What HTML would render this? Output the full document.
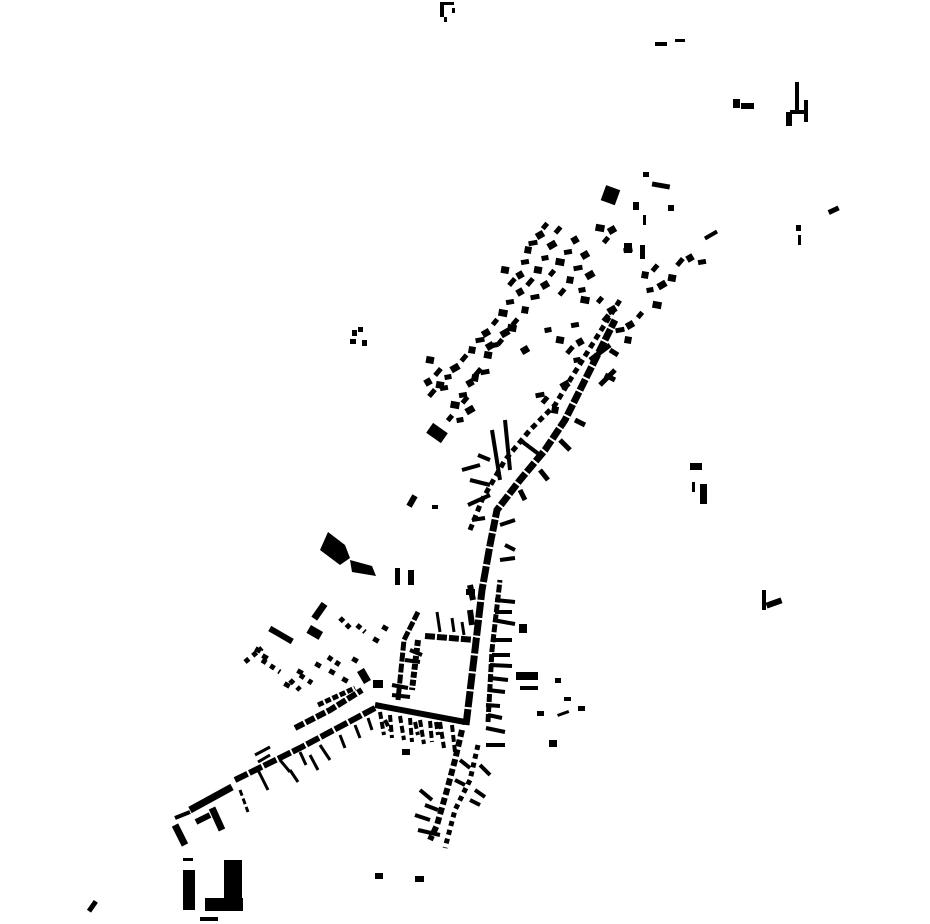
<!DOCTYPE html>
<html><head><meta charset="utf-8"><style>html,body{margin:0;padding:0;background:#fff}svg{display:block}</style></head>
<body>
<svg id="s" width="930" height="924" viewBox="0 0 930 924" xmlns="http://www.w3.org/2000/svg">
<g fill="#000" stroke="none">
<rect x="183" y="870" width="12" height="40"/>
<rect x="224" y="860" width="18" height="42"/>
<rect x="205" y="898" width="38" height="13"/>
<rect x="183" y="858" width="10" height="3"/>
<rect x="200" y="917" width="18" height="4"/>
<rect x="90" y="900" width="5" height="12" transform="rotate(35 92 906)"/>
<rect x="375" y="873" width="8" height="6"/>
<rect x="415" y="876" width="9" height="6"/>
<polygon points="328,532 345,545 350,558 340,565 320,550"/>
<polygon points="350,560 372,566 376,576 352,572"/>
<rect x="428" y="427" width="18" height="12" transform="rotate(35 437 433)"/>
<rect x="310" y="608" width="18" height="7" transform="rotate(-55 319 611)"/>
<rect x="308" y="628" width="14" height="9" transform="rotate(30 315 632)"/>
<rect x="268" y="632" width="26" height="6" transform="rotate(30 281 635)"/>
<rect x="357" y="672" width="14" height="8" transform="rotate(60 364 676)"/>
<rect x="373" y="680" width="10" height="8"/>
<rect x="603" y="187" width="15" height="16" transform="rotate(20 610 195)"/>
<rect x="516" y="672" width="22" height="8"/>
<rect x="520" y="686" width="18" height="4"/>
<rect x="549" y="740" width="8" height="7"/>
<rect x="402" y="749" width="8" height="6"/>
<rect x="395" y="568" width="5" height="17"/>
<rect x="408" y="570" width="6" height="15"/>
<rect x="409" y="495" width="6" height="12" transform="rotate(30 412 501)"/>
<rect x="432" y="505" width="6" height="4"/>
<rect x="690" y="463" width="12" height="7"/>
<rect x="692" y="482" width="3" height="10"/>
<rect x="700" y="484" width="7" height="20"/>
<rect x="762" y="590" width="4" height="20"/>
<rect x="766" y="600" width="16" height="6" transform="rotate(-20 774 603)"/>
<rect x="796" y="225" width="5" height="6"/><rect x="798" y="235" width="3" height="10"/>
<rect x="828" y="208" width="11" height="5" transform="rotate(-25 833 210)"/>
<rect x="655" y="42" width="12" height="4"/><rect x="675" y="39" width="10" height="3"/>
<rect x="733" y="99" width="7" height="9"/><rect x="741" y="103" width="13" height="6"/>
<rect x="795" y="82" width="4" height="30"/><rect x="804" y="100" width="4" height="22"/>
<rect x="790" y="110" width="18" height="4"/><rect x="786" y="112" width="6" height="14"/>
<rect x="440" y="2" width="4" height="15"/><rect x="444" y="2" width="10" height="3"/><rect x="452" y="8" width="3" height="5"/><rect x="444" y="17" width="3" height="5"/>
<rect x="352" y="330" width="5" height="6"/><rect x="358" y="327" width="5" height="5"/><rect x="350" y="339" width="6" height="5"/><rect x="362" y="340" width="5" height="6"/>
<rect x="652" y="183" width="18" height="5" transform="rotate(10 661 185)"/>
<rect x="643" y="172" width="6" height="5"/>
<rect x="633" y="202" width="6" height="8"/>
<rect x="668" y="205" width="6" height="6"/>
<rect x="643" y="215" width="3" height="10"/>
<rect x="624" y="243" width="8" height="10"/><rect x="640" y="245" width="5" height="14"/>
<rect x="704" y="233" width="14" height="4" transform="rotate(-30 711 235)"/>
<rect x="578" y="706" width="7" height="5"/><rect x="555" y="678" width="6" height="5"/>
<rect x="564" y="697" width="7" height="4"/><rect x="537" y="711" width="7" height="5"/>
<rect x="557" y="712" width="12" height="3" transform="rotate(-20 563 713)"/>
<rect x="519" y="624" width="8" height="9"/>
</g>
<g fill="none" stroke="#000" stroke-linecap="butt">
<path d="M190,810 L232,787" stroke-width="7"/>
<path d="M175,818 L190,812" stroke-width="4"/>
<path d="M175,825 L185,845" stroke-width="7"/>
<path d="M212,808 L222,830" stroke-width="7"/>
<path d="M196,822 L210,815" stroke-width="6"/>
<path d="M235,780 L300,748 L375,708" stroke-width="6" stroke-dasharray="14 2"/>
<path d="M295,728 L330,710 L362,690" stroke-width="6" stroke-dasharray="10 2"/>
<path d="M318,705 L355,688" stroke-width="5" stroke-dasharray="6 2"/>
<path d="M240,790 L248,812" stroke-width="3" stroke-dasharray="6 3"/>
<path d="M258,770 L268,790 M280,760 L290,772 M300,752 L306,765 M320,745 L330,760 M340,735 L345,748 M355,725 L360,738 M368,718 L372,730 M310,755 L318,770 M290,770 L298,782" stroke-width="3"/>
<path d="M255,755 L270,747 M258,762 L270,755" stroke-width="3"/>
<path d="M245,662 L262,648 M262,660 L280,672 M290,680 L300,690 M300,675 L312,683" stroke-width="5" stroke-dasharray="5 5"/>
<path d="M328,657 L340,665 M340,618 L352,630 M357,625 L365,632" stroke-width="5" stroke-dasharray="5 4"/>
<path d="M375,705 L465,722" stroke-width="6"/>
<path d="M380,712 L384,735 M390,715 L392,738 M400,716 L404,740 M410,718 L412,742 M420,720 L424,744 M430,721 L432,742 M440,722 L444,748 M452,725 L455,752 M385,720 L390,730 M415,722 L418,735 M436,722 L438,735" stroke-width="4" stroke-dasharray="7 3"/>
<path d="M418,612 L404,640 L398,700" stroke-width="5" stroke-dasharray="9 2"/>
<path d="M418,640 L412,690" stroke-width="6" stroke-dasharray="6 2"/>
<path d="M425,636 L475,640" stroke-width="6" stroke-dasharray="10 2"/>
<path d="M392,685 L408,688 M392,695 L410,697 M405,660 L420,662 M410,650 L422,655" stroke-width="4"/>
<path d="M437,612 L440,632 M452,618 L454,632 M462,622 L464,635" stroke-width="3"/>
<path d="M466,725 L475,650 L482,590 L490,545" stroke-width="7" stroke-dasharray="16 2"/>
<path d="M488,722 L492,650 L500,580" stroke-width="5" stroke-dasharray="8 2"/>
<path d="M495,600 L515,602 M493,620 L515,624 M492,640 L512,640 M490,665 L512,666 M488,690 L505,692 M486,705 L500,706 M486,728 L505,732 M486,745 L505,745 M495,612 L512,612 M492,655 L510,655 M490,678 L508,680 M488,715 L502,718" stroke-width="4"/>
<path d="M470,585 L473,600 M470,610 L472,625 M466,592 L475,592" stroke-width="6"/>
<path d="M462,730 L455,760 L447,790 L437,825 L430,840" stroke-width="6" stroke-dasharray="7 3"/>
<path d="M478,745 L470,780 L455,810 L445,848" stroke-width="5" stroke-dasharray="5 4"/>
<path d="M420,790 L432,800 M415,815 L430,820 M418,830 L440,835 M480,765 L490,775 M475,790 L485,797 M460,760 L470,768 M425,805 L438,810 M470,800 L480,805 M455,780 L465,785" stroke-width="4"/>
<path d="M490,545 L497,510 L520,480 L545,450 L565,420 L580,390 L600,350 L615,320" stroke-width="7" stroke-dasharray="12 2"/>
<path d="M470,530 L482,500 L505,460 L530,430 L555,405 L570,380 L595,340 L620,300" stroke-width="5" stroke-dasharray="6 4"/>
<path d="M500,525 L515,520 M505,545 L515,550 M472,520 L485,518 M468,505 L490,495 M462,470 L480,465 M470,480 L490,485 M492,430 L500,480 M505,420 L510,470 M520,440 L540,455 M478,455 L490,460 M500,560 L515,558" stroke-width="4"/>
<path d="M520,490 L525,500 M540,470 L548,480 M560,440 L570,450 M575,420 L585,425 M605,375 L615,380 M610,350 L618,355" stroke-width="5"/>
<path d="M590,360 L610,345 M600,385 L615,370" stroke-width="5"/>
</g>
<g id="dots" fill="#000"></g>
</svg>
<script>
var g=document.getElementById('dots');
function r(x,y,w,h,a){var e=document.createElementNS('http://www.w3.org/2000/svg','rect');e.setAttribute('x',x-w/2);e.setAttribute('y',y-h/2);e.setAttribute('width',w);e.setAttribute('height',h);e.setAttribute('transform','rotate('+a+' '+x+' '+y+')');g.appendChild(e);}
var pts=[[545,226],[540,235],[533,243],[528,250],[558,230],[552,245],[545,258],[538,270],[530,282],[520,292],[510,302],[503,313],[495,322],[486,333],[480,340],[472,350],[464,358],[455,368],[448,377],[440,385],[432,393],[575,240],[568,252],[560,262],[552,273],[545,285],[535,297],[525,310],[515,322],[505,333],[495,345],[488,355],[478,372],[470,383],[463,395],[455,405],[450,418],[585,255],[578,268],[570,280],[562,292],[590,275],[582,290],[505,270],[512,282],[520,275],[525,262],[512,328],[500,342],[490,346],[485,372],[475,378],[465,400],[470,410],[460,420],[430,360],[438,372],[428,382],[444,388],[600,228],[606,240],[612,230],[628,250],[645,275],[655,268],[662,285],[650,290],[672,278],[680,262],[690,258],[702,262],[657,305],[640,315],[630,325],[620,330],[628,340],[606,318],[612,310],[548,330],[560,340],[570,350],[580,342],[575,325],[585,300],[600,300],[525,350],[540,395],[555,410],[545,400],[565,385],[577,360]];
pts.forEach(function(p,i){r(p[0],p[1],7+(i%3),5+(i%2)*2,-50+(i%4)*20);});
[[258,650],[265,657],[287,685],[300,672],[318,665],[332,672],[345,680],[355,660],[376,640],[385,628]].forEach(function(p,i){r(p[0],p[1],6,5,30);});
</script>
</body></html>
